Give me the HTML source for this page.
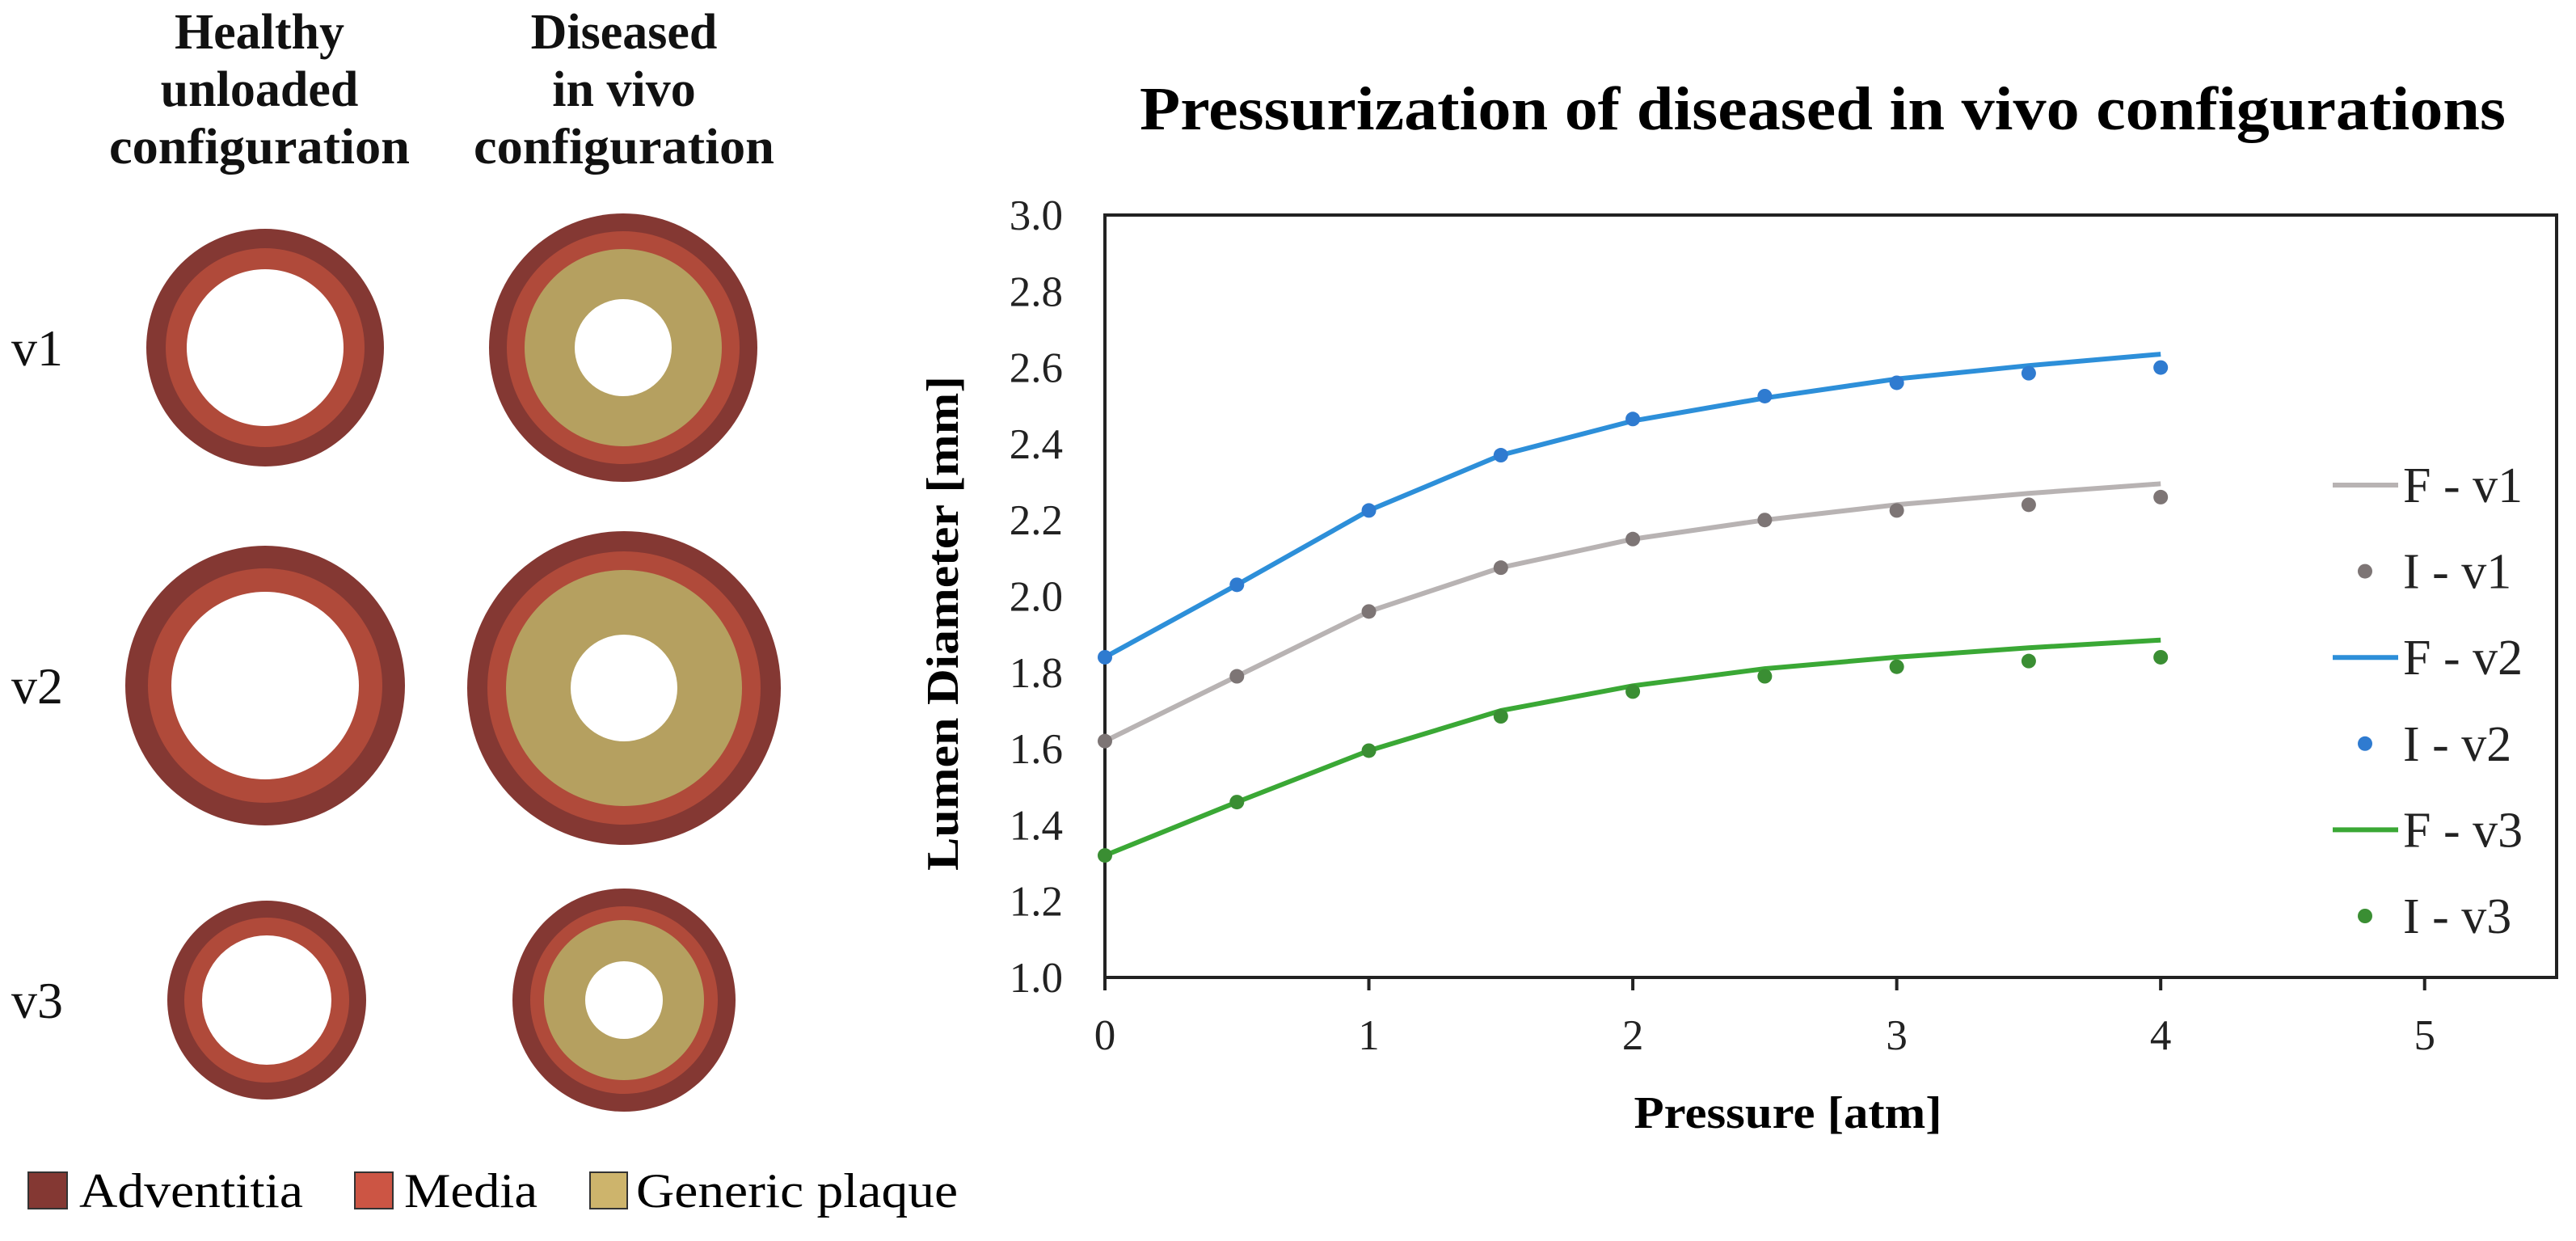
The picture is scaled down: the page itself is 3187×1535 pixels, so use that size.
<!DOCTYPE html>
<html><head><meta charset="utf-8"><style>
html,body{margin:0;padding:0;background:#fff;}
svg{display:block;font-family:"Liberation Serif",serif;}
</style></head><body>
<svg id="fig" width="3187" height="1535" viewBox="0 0 3187 1535" xmlns="http://www.w3.org/2000/svg">
<g>
<g font-weight="bold" font-size="62" text-anchor="middle" fill="#111">
<text x="321" y="60">Healthy</text>
<text x="321" y="131">unloaded</text>
<text x="321" y="202" textLength="372" lengthAdjust="spacingAndGlyphs">configuration</text>
<text x="772" y="60">Diseased</text>
<text x="772" y="131">in vivo</text>
<text x="772" y="202" textLength="372" lengthAdjust="spacingAndGlyphs">configuration</text>
</g>
<g font-size="64" fill="#111">
<text x="14" y="452">v1</text>
<text x="14" y="870">v2</text>
<text x="14" y="1259">v3</text>
</g>
<g id="rings"></g>
<g>
<rect x="35" y="1450" width="48" height="45" fill="#843833" stroke="#333" stroke-width="2"/>
<text x="98" y="1493" font-size="60" textLength="277" lengthAdjust="spacingAndGlyphs">Adventitia</text>
<rect x="439" y="1450" width="47" height="45" fill="#cc5544" stroke="#333" stroke-width="2"/>
<text x="500" y="1493" font-size="60" textLength="165" lengthAdjust="spacingAndGlyphs">Media</text>
<rect x="730" y="1450" width="46" height="45" fill="#cdb46c" stroke="#333" stroke-width="2"/>
<text x="787" y="1493" font-size="60" textLength="398" lengthAdjust="spacingAndGlyphs">Generic plaque</text>
</g>
</g>
<g>
<text x="2255" y="160" font-size="76" font-weight="bold" text-anchor="middle" textLength="1690" lengthAdjust="spacingAndGlyphs">Pressurization of diseased in vivo configurations</text>
<g id="axes"></g>
<g id="series"></g>
<text x="2212" y="1395" font-size="56" font-weight="bold" text-anchor="middle" textLength="381" lengthAdjust="spacingAndGlyphs">Pressure [atm]</text>
<text transform="translate(1185,771) rotate(-90)" font-size="56" font-weight="bold" text-anchor="middle" textLength="612" lengthAdjust="spacingAndGlyphs">Lumen Diameter [mm]</text>
<g id="legend"></g>
</g>
</svg>
<script>
const NS="http://www.w3.org/2000/svg";
const pressures=[0,0.5,1,1.5,2,2.5,3,3.5,4];
const fV1=[1.62,1.79,1.96,2.075,2.15,2.2,2.24,2.27,2.295];
const iV1=[1.62,1.79,1.96,2.075,2.15,2.2,2.225,2.24,2.26];
const fV2=[1.84,2.03,2.225,2.37,2.46,2.52,2.57,2.605,2.635];
const iV2=[1.84,2.03,2.225,2.37,2.465,2.525,2.56,2.585,2.60];
const fV3=[1.32,1.46,1.595,1.70,1.765,1.81,1.84,1.865,1.885];
const iV3=[1.32,1.46,1.595,1.685,1.75,1.79,1.815,1.83,1.84];
const xTicks=[0,1,2,3,4,5];
const yTicks=[1.0,1.2,1.4,1.6,1.8,2.0,2.2,2.4,2.6,2.8,3.0];
const legendLabels=["F - v1","I - v1","F - v2","I - v2","F - v3","I - v3"];

const X0=1367,X1=3163,Y0=1209,Y1=266;
const xMin=0,xMax=5.5,yMin=1,yMax=3;
const sx=v=>X0+(v-xMin)/(xMax-xMin)*(X1-X0);
const sy=v=>Y0-(v-yMin)/(yMax-yMin)*(Y0-Y1);
function mk(tag,attrs,parent){const e=document.createElementNS(NS,tag);for(const k in attrs)e.setAttribute(k,attrs[k]);parent.appendChild(e);return e;}

const axes=document.getElementById('axes');
const frame=mk('rect',{x:X0,y:Y1,width:X1-X0,height:Y0-Y1,fill:'none',stroke:'#222','stroke-width':4},axes);


yTicks.forEach(v=>{
  const t=mk('text',{x:1315,y:sy(v)+18,'font-size':53,'text-anchor':'end',fill:'#222'},axes);
  t.textContent=v.toFixed(1);
  
  
});
xTicks.forEach(v=>{
  const l=mk('line',{x1:sx(v),x2:sx(v),y1:Y0,y2:Y0+16,stroke:'#222','stroke-width':4},axes);
  
  
  const t=mk('text',{x:sx(v),y:1298,'font-size':53,'text-anchor':'middle',fill:'#222'},axes);
  t.textContent=String(v);
  
  
});

const series=document.getElementById('series');
const lineCol=['#b8b3b3','#2d8fd9','#3aa835'];
const dotCol=['#7d7575','#2f7bd0','#3a8e33'];
[[fV1,iV1],[fV2,iV2],[fV3,iV3]].forEach((pair,k)=>{
  const pts=pressures.map((p,i)=>sx(p).toFixed(1)+','+sy(pair[0][i]).toFixed(1)).join(' ');
  const pl=mk('polyline',{points:pts,fill:'none',stroke:lineCol[k],'stroke-width':6,'stroke-linejoin':'round'},series);
  
  
  pressures.forEach((p,i)=>{
    const c=mk('circle',{cx:sx(p),cy:sy(pair[1][i]),r:9,fill:dotCol[k]},series);
    
    
  });
});

const legend=document.getElementById('legend');
legendLabels.forEach((lab,i)=>{
  const y=600+i*106.6;const k=Math.floor(i/2);
  if(i%2===0){
    const l=mk('line',{x1:2886,x2:2967,y1:y,y2:y,stroke:lineCol[k],'stroke-width':6},legend);
    
    
  } else {
    const c=mk('circle',{cx:2926,cy:y,r:9,fill:dotCol[k]},legend);
    
    
  }
  const t=mk('text',{x:2973,y:y+21,'font-size':62,fill:'#222'},legend);
  t.textContent=lab;
  
  
});

const rings=document.getElementById('rings');
const ringSpecs=[
 [328,430,[147,123,null,97]],[771,430,[166,144,122,60]],
 [328,848,[173,145,null,116]],[772,851,[194,169,146,66]],
 [330,1237,[123,102,null,80]],[772,1237,[138,116,99,48]]];
const rc=['#843833','#b04a3a','#b5a060','#ffffff'];
ringSpecs.forEach(s=>{
  s[2].forEach((r,j)=>{
    if(r===null)return;
    const c=mk('circle',{cx:s[0],cy:s[1],r:r,fill:rc[j]},rings);
    
    
  });
});
</script>
</body></html>
